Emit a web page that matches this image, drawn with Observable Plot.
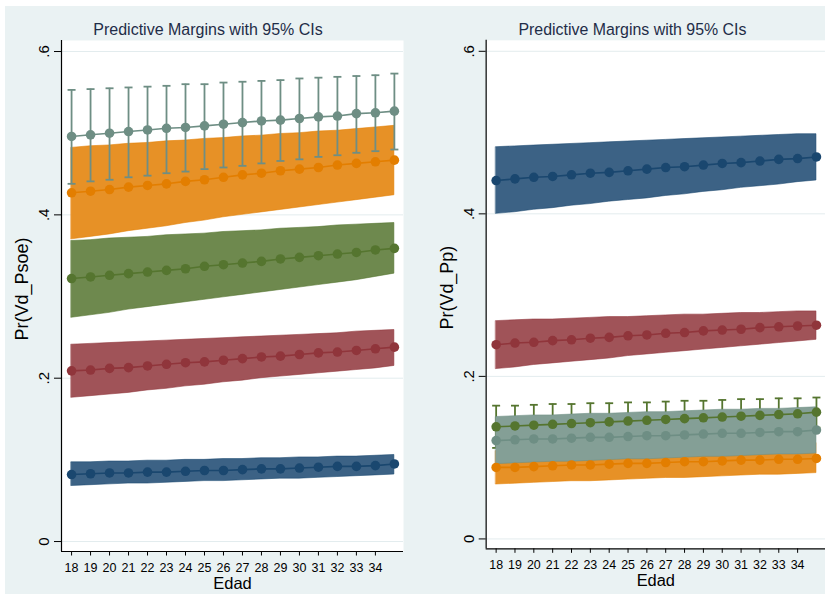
<!DOCTYPE html>
<html><head><meta charset="utf-8">
<script src="https://cdn.jsdelivr.net/npm/d3@7"></script>
<script src="https://cdn.jsdelivr.net/npm/@observablehq/plot@0.6"></script>
<style>
html,body{margin:0;padding:0;background:#fff;}
#wrap{position:relative;width:825px;height:594px;overflow:hidden;background:#fff;}
#bg{position:absolute;left:5px;top:6px;right:0;bottom:0;background:#eaf2f3;}
.panel{position:absolute;top:6px;}
</style></head><body>
<div id="wrap"><div id="bg"></div><div id="p1" class="panel" style="left:5px"></div><div id="p2" class="panel" style="left:415px"></div></div>
<script>
// ---- shared ----
const ages = [18,19,20,21,22,23,24,25,26,27,28,29,30,31,32,33,34,35];
const xTicks = [18,19,20,21,22,23,24,25,26,27,28,29,30,31,32,33,34];
const yTicks = [0, 0.2, 0.4, 0.6];
const title = "Predictive Margins with 95% CIs";
const xLabel = "Edad";

// ---- left panel: Pr(Vd_Psoe) ----
const psoeLabel = "Pr(Vd_Psoe)";
const psoeNavyM = [0.082,0.083,0.084,0.084,0.085,0.085,0.086,0.087,0.087,0.088,0.089,0.089,0.090,0.091,0.092,0.092,0.093,0.095];
const psoeNavyL = [0.068,0.069,0.070,0.071,0.071,0.072,0.073,0.074,0.074,0.075,0.076,0.077,0.077,0.078,0.079,0.080,0.081,0.082];
const psoeNavyH = [0.097,0.097,0.098,0.098,0.099,0.099,0.100,0.100,0.101,0.101,0.102,0.102,0.103,0.103,0.104,0.104,0.105,0.106];
const psoeMaroonM = [0.209,0.210,0.212,0.213,0.215,0.217,0.219,0.220,0.222,0.224,0.226,0.227,0.229,0.231,0.232,0.234,0.236,0.238];
const psoeMaroonL = [0.176,0.178,0.180,0.182,0.185,0.187,0.190,0.192,0.195,0.197,0.200,0.202,0.204,0.206,0.208,0.210,0.212,0.215];
const psoeMaroonH = [0.241,0.242,0.243,0.244,0.245,0.246,0.247,0.248,0.249,0.250,0.251,0.252,0.253,0.254,0.255,0.257,0.258,0.259];
const psoeGreenM = [0.322,0.324,0.326,0.328,0.330,0.332,0.334,0.337,0.339,0.341,0.343,0.346,0.348,0.350,0.352,0.354,0.357,0.359];
const psoeGreenL = [0.274,0.277,0.280,0.284,0.287,0.290,0.293,0.296,0.299,0.302,0.305,0.308,0.311,0.314,0.317,0.320,0.324,0.328];
const psoeGreenH = [0.368,0.369,0.371,0.372,0.373,0.375,0.376,0.377,0.379,0.380,0.381,0.383,0.384,0.385,0.387,0.388,0.389,0.390];
const psoeOrangeM = [0.427,0.429,0.431,0.434,0.436,0.438,0.441,0.443,0.446,0.449,0.451,0.454,0.456,0.458,0.461,0.463,0.465,0.467];
const psoeOrangeL = [0.370,0.373,0.376,0.380,0.383,0.386,0.390,0.393,0.397,0.400,0.403,0.406,0.409,0.412,0.415,0.418,0.421,0.424];
const psoeOrangeH = [0.482,0.484,0.485,0.487,0.488,0.490,0.491,0.493,0.494,0.496,0.497,0.499,0.500,0.502,0.503,0.505,0.507,0.509];
const psoeTealM = [0.496,0.498,0.500,0.502,0.504,0.506,0.507,0.509,0.511,0.513,0.515,0.516,0.518,0.520,0.521,0.524,0.525,0.527];
const psoeTealL = [0.438,0.441,0.443,0.446,0.448,0.451,0.453,0.456,0.458,0.460,0.463,0.466,0.468,0.471,0.473,0.476,0.478,0.480];
const psoeTealH = [0.553,0.554,0.555,0.556,0.557,0.558,0.560,0.560,0.562,0.563,0.564,0.565,0.567,0.568,0.569,0.570,0.571,0.573];

// ---- right panel: Pr(Vd_Pp) ----
const ppLabel = "Pr(Vd_Pp)";
const ppNavyM = [0.441,0.443,0.445,0.446,0.448,0.450,0.451,0.453,0.455,0.457,0.458,0.460,0.462,0.463,0.465,0.467,0.468,0.470];
const ppNavyL = [0.400,0.402,0.405,0.407,0.410,0.412,0.415,0.417,0.419,0.422,0.424,0.427,0.429,0.432,0.434,0.436,0.439,0.441];
const ppNavyH = [0.482,0.483,0.484,0.485,0.486,0.487,0.488,0.489,0.490,0.491,0.492,0.493,0.494,0.495,0.496,0.497,0.498,0.498];
const ppMaroonM = [0.239,0.241,0.242,0.244,0.245,0.247,0.248,0.250,0.251,0.253,0.254,0.256,0.257,0.258,0.260,0.261,0.262,0.263];
const ppMaroonL = [0.209,0.211,0.214,0.216,0.218,0.220,0.222,0.225,0.227,0.229,0.231,0.233,0.235,0.237,0.239,0.241,0.243,0.245];
const ppMaroonH = [0.268,0.269,0.270,0.270,0.271,0.272,0.273,0.273,0.274,0.275,0.276,0.276,0.277,0.278,0.278,0.279,0.280,0.280];
const ppGreenM = [0.138,0.139,0.140,0.141,0.142,0.143,0.144,0.145,0.146,0.147,0.148,0.149,0.150,0.151,0.152,0.153,0.154,0.156];
const ppGreenL = [0.112,0.114,0.115,0.116,0.118,0.119,0.121,0.122,0.124,0.125,0.126,0.128,0.129,0.130,0.132,0.133,0.135,0.137];
const ppGreenH = [0.164,0.164,0.165,0.166,0.166,0.167,0.167,0.168,0.168,0.169,0.170,0.170,0.171,0.172,0.172,0.173,0.173,0.174];
const ppTealM = [0.121,0.122,0.123,0.123,0.124,0.125,0.125,0.126,0.127,0.127,0.128,0.129,0.130,0.130,0.131,0.132,0.132,0.134];
const ppTealL = [0.092,0.093,0.094,0.095,0.095,0.096,0.097,0.098,0.098,0.099,0.100,0.101,0.101,0.102,0.103,0.104,0.104,0.105];
const ppTealH = [0.150,0.151,0.152,0.152,0.153,0.154,0.154,0.155,0.156,0.156,0.157,0.158,0.159,0.159,0.160,0.160,0.161,0.162];
const ppOrangeM = [0.088,0.088,0.089,0.090,0.091,0.091,0.092,0.093,0.093,0.094,0.095,0.095,0.096,0.097,0.097,0.098,0.098,0.099];
const ppOrangeL = [0.067,0.068,0.069,0.070,0.071,0.071,0.072,0.073,0.074,0.075,0.075,0.076,0.077,0.078,0.079,0.079,0.080,0.081];
const ppOrangeH = [0.108,0.109,0.109,0.110,0.110,0.111,0.112,0.112,0.113,0.113,0.114,0.114,0.115,0.116,0.116,0.117,0.117,0.118];

// Stata s2color
const C = {
  navy:   {line:"#1a476f", band:"#3c6285"},
  maroon: {line:"#90353b", band:"#a05358"},
  green:  {line:"#55752f", band:"#6e894e"},
  orange: {line:"#e37e00", band:"#e79126"},
  teal:   {line:"#6e8e84", band:"#849f96"}
};

const rows = (m, lo, hi) => ages.map((a, i) => ({age: a, m: m[i], lo: lo[i], hi: hi[i]}));

const capSymbol = {draw(ctx) { ctx.moveTo(-4, 0); ctx.lineTo(4, 0); }};
const fmt = d => d === 0 ? "0" : d.toFixed(1).replace(/^0/, "");
const FONT = "'Liberation Sans', Arial, Helvetica, sans-serif";

function panel(el, {series, ylabel, marginLeft, marginRight, width, titleDx}) {
  const marks = [Plot.frame({fill: "white", stroke: null}),
    Plot.gridY(yTicks, {stroke: "#e3ecee", strokeOpacity: 1, strokeWidth: 1})];
  for (const s of series) {
    const d = rows(s.m, s.lo, s.hi);
    if (s.kind === "band") {
      marks.push(Plot.areaY(d, {x: "age", y1: "lo", y2: "hi", fill: s.c.band, stroke: s.c.line, strokeWidth: 0.8, strokeOpacity: 0.7}));
    } else {
      marks.push(Plot.ruleX(d, {x: "age", y1: "lo", y2: "hi", stroke: s.c.line, strokeWidth: 1.8}));
      marks.push(Plot.dot(d, {x: "age", y: "hi", symbol: capSymbol, fill: "none", stroke: s.c.line, strokeWidth: 1.8}));
      marks.push(Plot.dot(d, {x: "age", y: "lo", symbol: capSymbol, fill: "none", stroke: s.c.line, strokeWidth: 1.8}));
    }
  }
  for (const s of series) {
    const d = rows(s.m, s.lo, s.hi);
    marks.push(Plot.line(d, {x: "age", y: "m", stroke: s.c.line, strokeWidth: 1.6}));
    marks.push(Plot.dot(d, {x: "age", y: "m", r: 4.8, fill: s.c.line, stroke: null}));
  }
  marks.push(
    Plot.axisX(xTicks, {tickSize: 4.5, tickPadding: 7, fontSize: 12.5, label: null, stroke: "#000", strokeWidth: 1, color: "#000"}),
    Plot.axisY(yTicks, {tickSize: 7, tickPadding: 5.5, tickRotate: -90, tickFormat: fmt, fontSize: 15, label: null, stroke: "#000"}),
    Plot.ruleX([17.47], {stroke: "#000", strokeWidth: 1.2}),
    Plot.ruleY([-0.0122], {stroke: "#000", strokeWidth: 1.2}),
    Plot.text([title], {text: d => d, frameAnchor: "top", dy: -10.5, dx: titleDx, fontSize: 16, fill: "#1f2d48", textAnchor: "middle", lineAnchor: "middle"}),
    Plot.text([ylabel], {text: d => d, frameAnchor: "left", rotate: -90, dx: -39, dy: -7, fontSize: 18, fill: "#000", textAnchor: "middle", lineAnchor: "middle"}),
    Plot.text([xLabel], {text: d => d, frameAnchor: "bottom", dy: 32, fontSize: 16.5, fill: "#000", textAnchor: "middle", lineAnchor: "middle"})
  );
  const svg = Plot.plot({
    width, height: 588,
    marginTop: 34, marginBottom: 43, marginLeft, marginRight,
    x: {domain: [17.47, 35.48]},
    y: {domain: [-0.0122, 0.6135]},
    style: {fontFamily: FONT, background: "transparent", overflow: "visible", color: "#000"},
    marks
  });
  el.appendChild(svg);
}

panel(document.getElementById("p1"), {
  ylabel: psoeLabel, marginLeft: 56, marginRight: 7, width: 405, titleDx: -24.5,
  series: [
    {c: C.navy, kind: "band", m: psoeNavyM, lo: psoeNavyL, hi: psoeNavyH},
    {c: C.maroon, kind: "band", m: psoeMaroonM, lo: psoeMaroonL, hi: psoeMaroonH},
    {c: C.green, kind: "band", m: psoeGreenM, lo: psoeGreenL, hi: psoeGreenH},
    {c: C.orange, kind: "band", m: psoeOrangeM, lo: psoeOrangeL, hi: psoeOrangeH},
    {c: C.teal, kind: "cap", m: psoeTealM, lo: psoeTealL, hi: psoeTealH}
  ]
});

panel(document.getElementById("p2"), {
  ylabel: ppLabel, marginLeft: 71, marginRight: 0, width: 412, titleDx: -23.5,
  series: [
    {c: C.navy, kind: "band", m: ppNavyM, lo: ppNavyL, hi: ppNavyH},
    {c: C.maroon, kind: "band", m: ppMaroonM, lo: ppMaroonL, hi: ppMaroonH},
    {c: C.green, kind: "cap", m: ppGreenM, lo: ppGreenL, hi: ppGreenH},
    {c: C.orange, kind: "band", m: ppOrangeM, lo: ppOrangeL, hi: ppOrangeH},
    {c: C.teal, kind: "band", m: ppTealM, lo: ppTealL, hi: ppTealH}
  ]
});
</script>
</body></html>
